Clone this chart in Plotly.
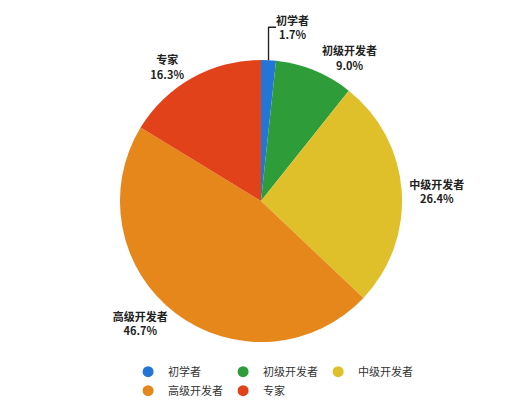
import plotly.graph_objects as go

# developer levels and their shares (%)
levels = ["初学者", "初级开发者", "中级开发者", "高级开发者", "专家"]
shares = [1.7, 9.0, 26.4, 46.7, 16.3]
colors = ["#2376d6", "#2f9c3a", "#dfc02a", "#e6871c", "#e2421a"]

FONT = "Noto Sans CJK SC"

fig = go.Figure()

fig.add_trace(go.Pie(
    labels=levels,
    values=shares,
    sort=False,
    direction="clockwise",
    rotation=0,
    domain=dict(x=[0, 1], y=[0.194, 1]),
    marker=dict(colors=colors, line=dict(width=0)),
    textposition="outside",
    texttemplate="<b>%{label}</b><br><b>%{value:.1f}%</b>",
    textfont=dict(family=FONT, size=11, color="#222222"),
    showlegend=False,
    hoverinfo="label+percent",
))

# round legend markers, like the original
for name, c in zip(levels, colors):
    fig.add_trace(go.Scatter(
        x=[None], y=[None], mode="markers", name=name,
        marker=dict(symbol="circle", size=11, color=c),
    ))

# page body adds 8px, so margins are 8px smaller on the left/top
fig.update_layout(
    width=528,
    height=420,
    margin=dict(l=103, r=125, t=52, b=18),
    paper_bgcolor="white",
    plot_bgcolor="white",
    xaxis=dict(visible=False),
    yaxis=dict(visible=False),
    legend=dict(
        orientation="h",
        x=0.057, xanchor="left",
        y=0.151, yanchor="top",
        entrywidth=50,
        font=dict(family=FONT, size=11, color="#333333"),
        tracegroupgap=0,
        itemclick=False,
        bgcolor="rgba(0,0,0,0)",
    ),
)

fig.write_html("out.html")
